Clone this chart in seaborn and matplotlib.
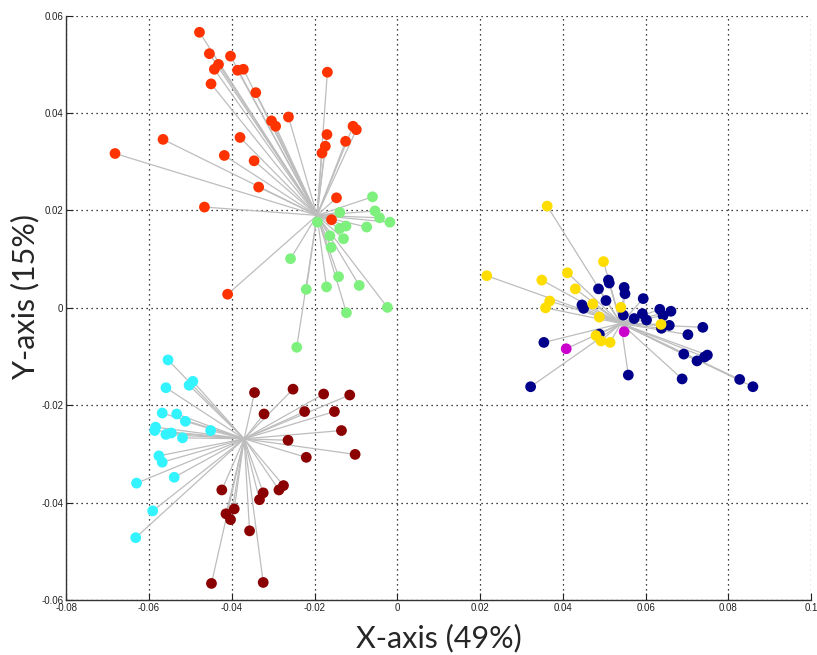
import matplotlib
matplotlib.use('Agg')
import matplotlib.pyplot as plt
import seaborn as sns
import numpy as np
import pandas as pd

# Scatter points per group (x, y)
red_x = [-0.0478, -0.0454, -0.0403, -0.0432, -0.0442, -0.0386, -0.0372, -0.0450, -0.0169, -0.0342,
         -0.0263, -0.0304, -0.0294, -0.0566, -0.0380, -0.0170, -0.0107, -0.0099, -0.0125, -0.0174,
         -0.0182, -0.0682, -0.0418, -0.0346, -0.0335, -0.0147, -0.0466, -0.0159, -0.0410]
red_y = [0.0566, 0.0522, 0.0517, 0.0500, 0.0490, 0.0488, 0.0490, 0.0460, 0.0484, 0.0442,
         0.0392, 0.0384, 0.0373, 0.0346, 0.0350, 0.0356, 0.0373, 0.0366, 0.0342, 0.0332,
         0.0318, 0.0317, 0.0313, 0.0302, 0.0248, 0.0226, 0.0207, 0.0181, 0.0028]

green_x = [-0.0060, -0.0139, -0.0054, -0.0043, -0.0018, -0.0193, -0.0124, -0.0139, -0.0074, -0.0163,
           -0.0130, -0.0160, -0.0258, -0.0142, -0.0092, -0.0220, -0.0171, -0.0123, -0.0024, -0.0243]
green_y = [0.0228, 0.0196, 0.0199, 0.0185, 0.0176, 0.0176, 0.0168, 0.0163, 0.0166, 0.0148,
           0.0142, 0.0124, 0.0101, 0.0064, 0.0046, 0.0038, 0.0043, -0.0010, 0.0001, -0.0081]

cyan_x = [-0.0554, -0.0494, -0.0503, -0.0559, -0.0568, -0.0533, -0.0512, -0.0584, -0.0586, -0.0559,
          -0.0546, -0.0519, -0.0451, -0.0576, -0.0568, -0.0539, -0.0630, -0.0591, -0.0632]
cyan_y = [-0.0107, -0.0151, -0.0159, -0.0164, -0.0216, -0.0218, -0.0233, -0.0245, -0.0252, -0.0260,
          -0.0257, -0.0267, -0.0252, -0.0304, -0.0317, -0.0348, -0.0360, -0.0417, -0.0472]

darkred_x = [-0.0345, -0.0252, -0.0178, -0.0115, -0.0322, -0.0224, -0.0152, -0.0135, -0.0264, -0.0102,
             -0.0220, -0.0424, -0.0324, -0.0333, -0.0275, -0.0286, -0.0394, -0.0414, -0.0403, -0.0357,
             -0.0449, -0.0324]
darkred_y = [-0.0174, -0.0167, -0.0177, -0.0179, -0.0218, -0.0213, -0.0213, -0.0252, -0.0272, -0.0301,
             -0.0307, -0.0374, -0.0380, -0.0394, -0.0365, -0.0374, -0.0413, -0.0423, -0.0435, -0.0458,
             -0.0566, -0.0564]

navy_x = [0.0510, 0.0512, 0.0486, 0.0548, 0.0550, 0.0594, 0.0504, 0.0446, 0.0450, 0.0634,
          0.0661, 0.0592, 0.0642, 0.0546, 0.0572, 0.0602, 0.0657, 0.0638, 0.0738, 0.0702,
          0.0488, 0.0354, 0.0692, 0.0749, 0.0742, 0.0724, 0.0558, 0.0688, 0.0322, 0.0827,
          0.0859]
navy_y = [0.0057, 0.0051, 0.0039, 0.0042, 0.0029, 0.0019, 0.0015, 0.0006, -0.0001, -0.0003,
          -0.0007, -0.0012, -0.0016, -0.0015, -0.0022, -0.0025, -0.0036, -0.0042, -0.0040, -0.0055,
          -0.0054, -0.0071, -0.0095, -0.0097, -0.0101, -0.0109, -0.0138, -0.0146, -0.0162, -0.0147,
          -0.0162]

yellow_x = [0.0362, 0.0216, 0.0498, 0.0411, 0.0349, 0.0430, 0.0368, 0.0358, 0.0472, 0.0540,
            0.0488, 0.0637, 0.0480, 0.0492, 0.0514]
yellow_y = [0.0209, 0.0066, 0.0095, 0.0072, 0.0057, 0.0039, 0.0014, 0.0000, 0.0008, 0.0001,
            -0.0019, -0.0034, -0.0057, -0.0068, -0.0071]

magenta_x = [0.0408, 0.0548]
magenta_y = [-0.0084, -0.0049]

# hub each group's spokes run to
hub_x = {"red": -0.0194, "green": -0.0194, "cyan": -0.0370, "darkred": -0.0370,
         "navy": 0.0540, "yellow": 0.0540, "magenta": 0.0540}
hub_y = {"red": 0.0190, "green": 0.0190, "cyan": -0.0269, "darkred": -0.0269,
         "navy": -0.0032, "yellow": -0.0032, "magenta": -0.0032}

colors = {"red": "#ff3300", "green": "#7ef07e", "cyan": "#33f3ff", "darkred": "#8b0000",
          "navy": "#00008b", "yellow": "#ffdd00", "magenta": "#cc00cc"}

groups = [("red", red_x, red_y), ("green", green_x, green_y), ("cyan", cyan_x, cyan_y),
          ("darkred", darkred_x, darkred_y), ("navy", navy_x, navy_y),
          ("yellow", yellow_x, yellow_y), ("magenta", magenta_x, magenta_y)]

df = pd.concat([pd.DataFrame({"x": gx, "y": gy, "group": g}) for g, gx, gy in groups],
               ignore_index=True)

sns.set_style("white")
plt.rcParams['font.family'] = ['Liberation Sans', 'DejaVu Sans']

fig = plt.figure(figsize=(8.17, 6.55), dpi=100)
ax = fig.add_axes([0.081, 0.084, 0.912, 0.892])

# spokes from hub to every point
for g, gx, gy in groups:
    for px, py in zip(gx, gy):
        ax.plot([hub_x[g], px], [hub_y[g], py], color="#bdbdbd", lw=0.9, zorder=1)

sns.scatterplot(data=df, x="x", y="y", hue="group", palette=colors, s=60,
                edgecolor=None, linewidth=0, legend=False, ax=ax, zorder=3)

ax.set_xlim(-0.08, 0.1)
ax.set_ylim(-0.06, 0.06)
ax.set_xticks(np.arange(-0.08, 0.1001, 0.02))
ax.set_yticks(np.arange(-0.06, 0.0601, 0.02))
ax.set_xticklabels(["-0.08", "-0.06", "-0.04", "-0.02", "0", "0.02", "0.04", "0.06", "0.08", "0.1"])
ax.set_yticklabels(["-0.06", "-0.04", "-0.02", "0", "0.02", "0.04", "0.06"])
ax.tick_params(direction="in", length=5, width=0.8, labelsize=7, colors="#222222", pad=2,
               bottom=True, left=True)
ax.grid(True, linestyle=(0, (1, 3)), color="black", linewidth=0.9)
ax.set_axisbelow(True)
for side in ["top", "right"]:
    ax.spines[side].set_visible(False)
for side in ["left", "bottom"]:
    ax.spines[side].set_color("#333333")
    ax.spines[side].set_linewidth(1.0)

ax.set_xlabel("X-axis (49%)", fontsize=22, family=["Lato", "DejaVu Sans"], labelpad=8)
ax.set_ylabel("Y-axis (15%)", fontsize=22, family=["Lato", "DejaVu Sans"])
ax.yaxis.set_label_coords(-0.036, 0.52)

fig.savefig("out.png", dpi=100)
